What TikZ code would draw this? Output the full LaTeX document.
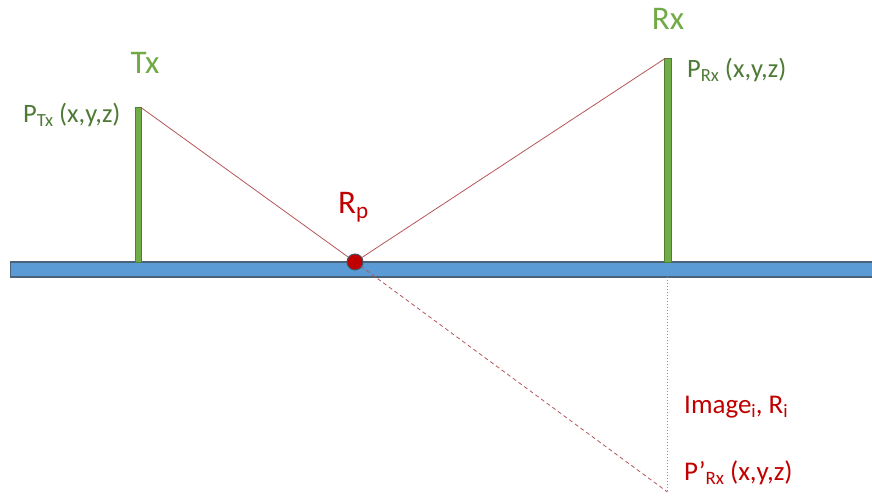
\documentclass[tikz,border=0pt]{standalone}
\usepackage{fontspec}
\setmainfont{Carlito}
\definecolor{polegreen}{HTML}{70AD47}
\definecolor{poleedge}{HTML}{507E32}
\definecolor{lblgreen}{HTML}{4E7A35}
\definecolor{ttlgreen}{HTML}{6FAA45}
\definecolor{darkred}{HTML}{C00000}
\definecolor{raycol}{HTML}{B5555A}
\definecolor{vertcol}{HTML}{A87F84}
\definecolor{barblue}{HTML}{5B9BD5}
\definecolor{baredge}{HTML}{4A6277}
\definecolor{dotedge}{HTML}{44546A}
\newcommand\sbs[1]{\raisebox{-0.18em}{\scalebox{0.7}{#1}}}
\tikzset{
  ground/.style={fill=barblue, draw=baredge, line width=1.2pt},
  pole/.style={fill=polegreen, draw=poleedge, line width=0.5pt},
  ray/.style={draw=raycol, line width=0.8pt},
  imgray/.style={draw=raycol, line width=0.8pt, dash pattern=on 4pt off 3pt},
  imgvert/.style={draw=vertcol, line width=1.1pt, dash pattern=on 1.2pt off 1.8pt},
  title/.style={text=ttlgreen, font=\fontsize{33}{37}\selectfont, inner sep=0pt},
  plabel/.style={text=lblgreen, font=\fontsize{26.5}{30}\selectfont, inner sep=0pt, anchor=base west},
  rlabel/.style={text=darkred, font=\fontsize{27}{31}\selectfont, inner sep=0pt, anchor=base west},
  reflpt/.style={circle, fill=darkred, draw=dotedge, line width=1pt, minimum size=16pt, inner sep=0pt}
}
\begin{document}
\begin{tikzpicture}[x=1pt,y=-1pt]
\useasboundingbox (0,0) rectangle (872,498);
% ground
\draw[ground] (10.5,262) rectangle (875,277);
% poles
\draw[pole] (135.5,107) rectangle (141.5,262);
\draw[pole] (664.5,58) rectangle (671,262);
\coordinate (txtop) at (141,107.5);
\coordinate (rxtop) at (665,58.5);
\coordinate (rxfoot) at (667.5,277);
\coordinate (img) at (667.5,492);
\coordinate (rpc) at (355,262);
% rays
\draw[ray] (txtop) -- (rpc);
\draw[ray] (rpc) -- (rxtop);
\draw[imgray] (rpc) -- (img);
\draw[imgvert] (rxfoot) -- (img);
% reflection point
\node[reflpt] (rp) at (rpc) {};
% labels
\node[title] (tx) at (145,63) {Tx};
\node[title] (rx) at (668,19) {Rx};
\node[plabel] (ptx) at (23,122) {P\sbs{Tx} (x,y,z)};
\node[plabel] (prx) at (687,77) {P\sbs{Rx} (x,y,z)};
\node[text=darkred, font=\fontsize{33}{37}\selectfont, inner sep=0pt, anchor=base west] (rpl) at (338,213) {R\sbs{p}};
\node[rlabel] (imgl) at (684,413) {Image\sbs{i}, R\sbs{i}};
\node[rlabel] (pimg) at (684,480) {P’\sbs{Rx} (x,y,z)};
\end{tikzpicture}
\end{document}
